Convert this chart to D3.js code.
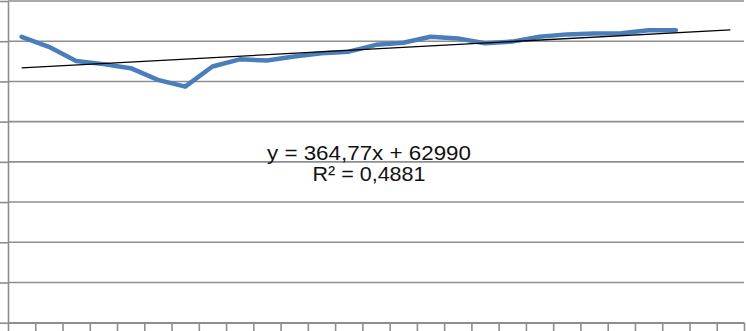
<!DOCTYPE html>
<html>
<head>
<meta charset="utf-8">
<script src="https://cdn.jsdelivr.net/npm/d3@7"></script>
<style>
  html, body { margin: 0; padding: 0; background: #fff; }
  svg { display: block; }
</style>
</head>
<body>
<svg id="chart"></svg>
<script>
// categories along the x axis (labels are cut off in the picture)
const categories = d3.range(1, 28).map(String);
// series values, one per period (25 periods)
const values = [
  71100, 68600, 65100, 64300, 63300, 60400, 58700, 63700, 65500, 65200,
  66200, 67000, 67400, 69100, 69600, 71100, 70700, 69500, 69900, 71100,
  71700, 71900, 72000, 72700, 72700
];
// y axis ticks
const yTicks = [0, 10000, 20000, 30000, 40000, 50000, 60000, 70000, 80000];
// linear trendline as shown in the label
const trendSlope = 364.77;
const trendIntercept = 62990;
const trendLabel = ['y = 364,77x + 62990', 'R² = 0,4881'];

const width = 746, height = 331;
const margin = { top: 1, right: 2, bottom: 8.3, left: 8 };

const svg = d3.select('#chart')
  .attr('width', width)
  .attr('height', height);

const x = d3.scaleBand()
  .domain(categories)
  .range([margin.left, width - margin.right]);

// edges of the categories, used for the tick marks between them
const xEdge = d3.scaleLinear()
  .domain([0, categories.length])
  .range([margin.left, width - margin.right]);

const y = d3.scaleLinear()
  .domain([0, 80000])
  .range([height - margin.bottom, margin.top]);

// horizontal gridlines
svg.append('g')
  .selectAll('line')
  .data(yTicks)
  .enter().append('line')
  .attr('x1', margin.left)
  .attr('x2', width - margin.right)
  .attr('y1', d => y(d))
  .attr('y2', d => y(d))
  .style('stroke', '#8e8e8e')
  .style('stroke-width', 1.6);

// left axis
const yAxis = svg.append('g')
  .attr('transform', `translate(${margin.left},0)`)
  .call(d3.axisLeft(y).tickValues(yTicks).tickSize(9).tickSizeOuter(0).tickFormat(''));
yAxis.selectAll('line, path').style('stroke', '#8e8e8e').style('stroke-width', 1.6);

// bottom axis
const xAxis = svg.append('g')
  .attr('transform', `translate(0,${y(0)})`)
  .call(d3.axisBottom(xEdge).tickValues(d3.range(0, categories.length + 1)).tickSize(10).tickSizeOuter(0).tickFormat(''));
xAxis.selectAll('line, path').style('stroke', '#8e8e8e').style('stroke-width', 1.6);

const cx = i => x(categories[i]) + x.bandwidth() / 2;

// data line
const line = d3.line()
  .x((d, i) => cx(i))
  .y(d => y(d));

svg.append('path')
  .datum(values)
  .attr('d', line)
  .style('fill', 'none')
  .style('stroke', '#4a7ebb')
  .style('stroke-width', 4.5)
  .style('stroke-linejoin', 'round')
  .style('stroke-linecap', 'round');

// trendline over all categories
const trendIdx = [0, categories.length - 1];
svg.append('line')
  .attr('x1', cx(trendIdx[0]))
  .attr('y1', y(trendSlope * (trendIdx[0] + 1) + trendIntercept))
  .attr('x2', cx(trendIdx[1]))
  .attr('y2', y(trendSlope * (trendIdx[1] + 1) + trendIntercept))
  .style('stroke', '#000')
  .style('stroke-width', 1.3);

// trendline equation
const label = svg.append('g')
  .style('font-family', '"Liberation Sans", Arial, sans-serif')
  .style('font-size', '21px')
  .style('fill', '#111');

label.append('text')
  .attr('x', 369)
  .attr('y', 160)
  .attr('text-anchor', 'middle')
  .attr('textLength', 204)
  .attr('lengthAdjust', 'spacingAndGlyphs')
  .text(trendLabel[0]);

label.append('text')
  .attr('x', 369)
  .attr('y', 181)
  .attr('text-anchor', 'middle')
  .attr('textLength', 113)
  .attr('lengthAdjust', 'spacingAndGlyphs')
  .text(trendLabel[1]);
</script>
</body>
</html>
